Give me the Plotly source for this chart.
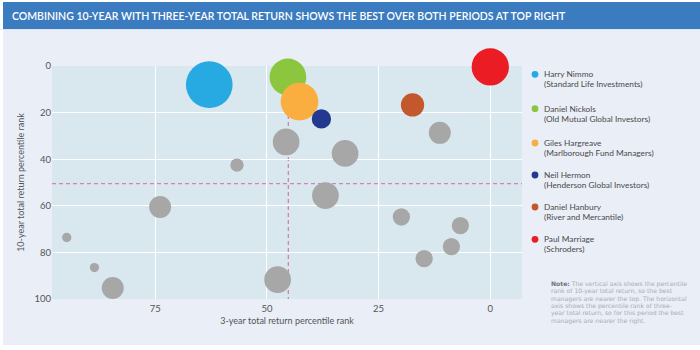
import plotly.graph_objects as go

# ---------------- data ----------------
managers = ["Harry Nimmo", "Daniel Nickols", "Giles Hargreave",
            "Neil Hermon", "Daniel Hanbury", "Paul Marriage"]
firms = ["(Standard Life Investments)", "(Old Mutual Global Investors)",
         "(Marlborough Fund Managers)", "(Henderson Global Investors)",
         "(River and Mercantile)", "(Schroders)"]
mgr_3yr = [62.9, 45.3, 42.7, 37.8, 17.4, 0.0]
mgr_10yr = [8.0, 4.7, 15.3, 22.7, 16.7, 0.4]
mgr_size = [46.7, 36.7, 37.7, 19.3, 23.3, 37.3]
mgr_colors = ["#27a9e1", "#8cc63e", "#fbae40", "#23398f", "#c2582b", "#ec1c24"]

other_3yr = [56.7, 73.9, 94.8, 88.6, 84.5, 47.6, 45.7, 32.5, 36.9, 11.3, 19.9, 6.7, 8.7, 14.8]
other_10yr = [42.5, 60.5, 73.6, 86.5, 95.3, 91.7, 32.6, 37.5, 55.6, 28.7, 64.8, 68.5, 77.5, 82.7]
other_size = [13.3, 22, 9.3, 9.3, 22, 26.7, 26.7, 26.7, 26.7, 22, 17.3, 17.3, 17.3, 17.3]

median_3yr = 45.2
median_10yr = 50.5

x_ticks = [75, 50, 25, 0]
y_ticks = [0, 20, 40, 60, 80, 100]

title_text = "COMBINING 10-YEAR WITH THREE-YEAR TOTAL RETURN SHOWS THE BEST OVER BOTH PERIODS AT TOP RIGHT"
note_lines = [
    "<b>Note:</b> The vertical axis shows the percentile",
    "rank of 10-year total return, so the best",
    "managers are nearer the top. The horizontal",
    "axis shows the percentile rank of three-",
    "year total return, so for this period the best",
    "managers are nearer the right.",
]

# ---------------- layout geometry ----------------
W, H = 700, 350
L, R, T, B = 52, 178, 66, 51
PW, PH = W - L - R, H - T - B


def px(xp):
    return (xp - L) / PW


def py(yp):
    return (H - B - yp) / PH


FONT = "Lato"
PANEL = "#e9eef7"

fig = go.Figure()

fig.add_trace(go.Scatter(
    x=other_3yr, y=other_10yr, mode="markers",
    marker=dict(size=other_size, sizemode="diameter", sizeref=1,
                color="#a7a7a7", line=dict(width=0), opacity=1),
    cliponaxis=False, showlegend=False, hoverinfo="skip"))

for i in range(len(managers)):
    fig.add_trace(go.Scatter(
        x=[mgr_3yr[i]], y=[mgr_10yr[i]], mode="markers", name=managers[i],
        marker=dict(size=[mgr_size[i]], sizemode="diameter", sizeref=1,
                    color=mgr_colors[i], line=dict(width=0), opacity=1),
        cliponaxis=False, showlegend=False))

shapes = []
# title bar and white frame
shapes.append(dict(type="rect", xref="paper", yref="paper",
                   x0=px(0), x1=px(700), y0=py(29), y1=py(2),
                   fillcolor="#3b7bbf", line=dict(width=0), layer="above"))
shapes.append(dict(type="rect", xref="paper", yref="paper",
                   x0=px(0), x1=px(3), y0=py(350), y1=py(2),
                   fillcolor="white", line=dict(width=0), layer="above"))
shapes.append(dict(type="rect", xref="paper", yref="paper",
                   x0=px(0), x1=px(700), y0=py(350), y1=py(345),
                   fillcolor="white", line=dict(width=0), layer="above"))
shapes.append(dict(type="rect", xref="paper", yref="paper",
                   x0=px(0), x1=px(700), y0=py(2), y1=py(0),
                   fillcolor="white", line=dict(width=0), layer="above"))
shapes.append(dict(type="rect", xref="paper", yref="paper",
                   x0=px(0), x1=px(700), y0=py(30), y1=py(29),
                   fillcolor="#dbe5f3", line=dict(width=0), layer="above"))

# median dashed lines
shapes.append(dict(type="line", xref="x", yref="y", x0=98.1, x1=-7.1,
                   y0=median_10yr, y1=median_10yr,
                   line=dict(color="#d184b6", width=1.3, dash="4px,3px"), layer="below"))
shapes.append(dict(type="line", xref="x", yref="y", x0=median_3yr, x1=median_3yr,
                   y0=0, y1=100,
                   line=dict(color="#d184b6", width=1.3, dash="4px,3px"), layer="below"))

annotations = []
annotations.append(dict(text=title_text, xref="paper", yref="paper",
                        x=px(10), y=py(16), xanchor="left", yanchor="middle",
                        showarrow=False,
                        font=dict(family=FONT, size=10.5, color="white", weight=600)))

# custom legend
leg_y = [74.3, 108.7, 143.0, 175.0, 207.0, 239.3]
for i in range(len(managers)):
    shapes.append(dict(type="circle", xref="paper", yref="paper",
                       x0=px(535 - 3.4), x1=px(535 + 3.4),
                       y0=py(leg_y[i] + 3.4), y1=py(leg_y[i] - 3.4),
                       fillcolor=mgr_colors[i], line=dict(width=0)))
    annotations.append(dict(text=managers[i], xref="paper", yref="paper",
                            x=px(541.5), y=py(leg_y[i]), xanchor="left", yanchor="middle",
                            showarrow=False,
                            font=dict(family=FONT, size=8.3, color="#4a4a4a")))
    annotations.append(dict(text=firms[i], xref="paper", yref="paper",
                            x=px(541.5), y=py(leg_y[i] + 10), xanchor="left", yanchor="middle",
                            showarrow=False,
                            font=dict(family=FONT, size=8.3, color="#4a4a4a")))

note_y = [284, 291.3, 298.6, 305.9, 313.2, 320.5]
for i, line in enumerate(note_lines):
    annotations.append(dict(text=line.replace("<b>Note:</b>", "<b><span style='color:#6f757e'>Note:</span></b>"),
                            xref="paper", yref="paper",
                            x=px(550), y=py(note_y[i]), xanchor="left", yanchor="middle",
                            showarrow=False, borderpad=0,
                            font=dict(family="DejaVu Sans", size=6.1, color="#a9adb3")))

fig.update_layout(
    width=W, height=H,
    margin=dict(l=L, r=R, t=T, b=B, pad=0),
    paper_bgcolor=PANEL, plot_bgcolor="#d9e7ef",
    font=dict(family=FONT, size=9, color="#555"),
    showlegend=False,
    shapes=shapes, annotations=annotations,
    xaxis=dict(range=[98.1, -7.1], tickvals=x_ticks, ticktext=[str(v) for v in x_ticks],
               showgrid=True, gridcolor="white", gridwidth=1, zeroline=False,
               showline=False, ticks="", tickfont=dict(size=9.5, color="#555"),
               ticklabelstandoff=2,
               title=dict(text="3-year total return percentile rank",
                          font=dict(size=9, color="#555"), standoff=5)),
    yaxis=dict(range=[100, 0], tickvals=y_ticks, ticktext=[str(v) for v in y_ticks],
               showgrid=True, gridcolor="white", gridwidth=1, zeroline=False,
               showline=False, ticks="", tickfont=dict(size=9.5, color="#555"),
               title=dict(text="10-year total return percentile rank",
                          font=dict(size=9, color="#555"), standoff=8)),
)

fig.write_html("out.html")
